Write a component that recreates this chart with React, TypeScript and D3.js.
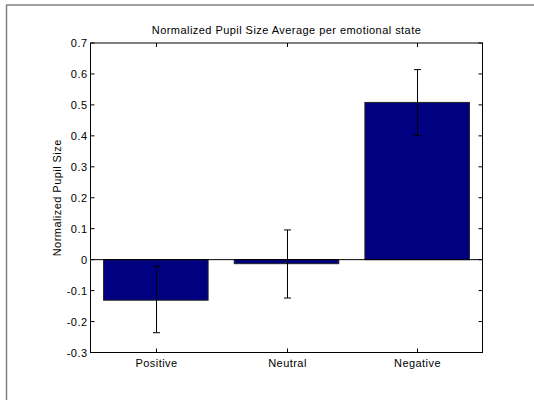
import React from "react";
import * as d3 from "d3";

const categories = ["Positive", "Neutral", "Negative"];
const means = [-0.131, -0.013, 0.508];
const errLow = [-0.236, -0.124, 0.401];
const errHigh = [-0.021, 0.096, 0.614];
const yTicks = [0.7, 0.6, 0.5, 0.4, 0.3, 0.2, 0.1, 0, -0.1, -0.2, -0.3];
const title = "Normalized Pupil Size Average per emotional state";
const yLabel = "Normalized Pupil Size";

export default function App() {
  const W = 534, H = 400;
  const left = 90.5, right = 482.5, top = 43, bottom = 352.5;
  const x = d3.scaleLinear().domain([0.5, 3.5]).range([left, right]);
  const y = d3.scaleLinear().domain([-0.3, 0.7]).range([bottom, top]);
  const bw = x(1.4) - x(0.6);
  const font = "'Liberation Sans', Arial, Helvetica, sans-serif";
  const fs = 11;
  const ls = 0.45;
  const fmt = (v: number) => (v === 0 ? "0" : v.toFixed(1));
  const tl = 4;
  return (
    <svg width={W} height={H} style={{ position: "absolute", left: 0, top: 0, background: "#fff" }}>
      <rect x={0} y={0} width={W} height={H} fill="#fff" />
      <line x1={6} x2={W} y1={5} y2={5} stroke="#808080" strokeWidth={1.5} />
      <line x1={6.5} x2={6.5} y1={5} y2={H} stroke="#808080" strokeWidth={1.5} />
      <text x={(left + right) / 2} y={34} textAnchor="middle" fontFamily={font} fontSize={fs} letterSpacing={ls} fill="#000">{title}</text>
      <text transform={`translate(61,${(top + bottom) / 2}) rotate(-90)`} textAnchor="middle" fontFamily={font} fontSize={fs} letterSpacing={ls} fill="#000">{yLabel}</text>
      {means.map((m, i) => (
        <rect key={"b" + i} x={x(i + 1) - bw / 2} y={y(Math.max(0, m))} width={bw} height={Math.abs(y(m) - y(0))}
          fill="#000080" stroke="#222" strokeWidth={1} />
      ))}
      <line x1={left} x2={right} y1={y(0)} y2={y(0)} stroke="#000" strokeWidth={1} />
      {means.map((m, i) => {
        const cx = Math.round(x(i + 1)) + 0.5;
        return (
          <g key={"e" + i} stroke="#000" strokeWidth={1}>
            <line x1={cx} x2={cx} y1={y(errLow[i])} y2={y(errHigh[i])} />
            <line x1={cx - 3.5} x2={cx + 3.5} y1={y(errLow[i])} y2={y(errLow[i])} />
            <line x1={cx - 3.5} x2={cx + 3.5} y1={y(errHigh[i])} y2={y(errHigh[i])} />
          </g>
        );
      })}
      <rect x={left} y={top} width={right - left} height={bottom - top} fill="none" stroke="#000" strokeWidth={1} />
      {yTicks.map((t) => (
        <g key={"y" + t}>
          <line x1={left} x2={left + tl} y1={y(t)} y2={y(t)} stroke="#000" />
          <line x1={right - tl} x2={right} y1={y(t)} y2={y(t)} stroke="#000" />
          <text x={left - 3} y={y(t) + 4} textAnchor="end" fontFamily={font} fontSize={fs} letterSpacing={ls} fill="#000">{fmt(t)}</text>
        </g>
      ))}
      {categories.map((c, i) => {
        const cx = Math.round(x(i + 1)) + 0.5;
        return (
          <g key={"x" + c}>
            <line x1={cx} x2={cx} y1={bottom} y2={bottom - tl} stroke="#000" />
            <line x1={cx} x2={cx} y1={top} y2={top + tl} stroke="#000" />
            <text x={cx} y={bottom + 14} textAnchor="middle" fontFamily={font} fontSize={fs} letterSpacing={ls} fill="#000">{c}</text>
          </g>
        );
      })}
    </svg>
  );
}
